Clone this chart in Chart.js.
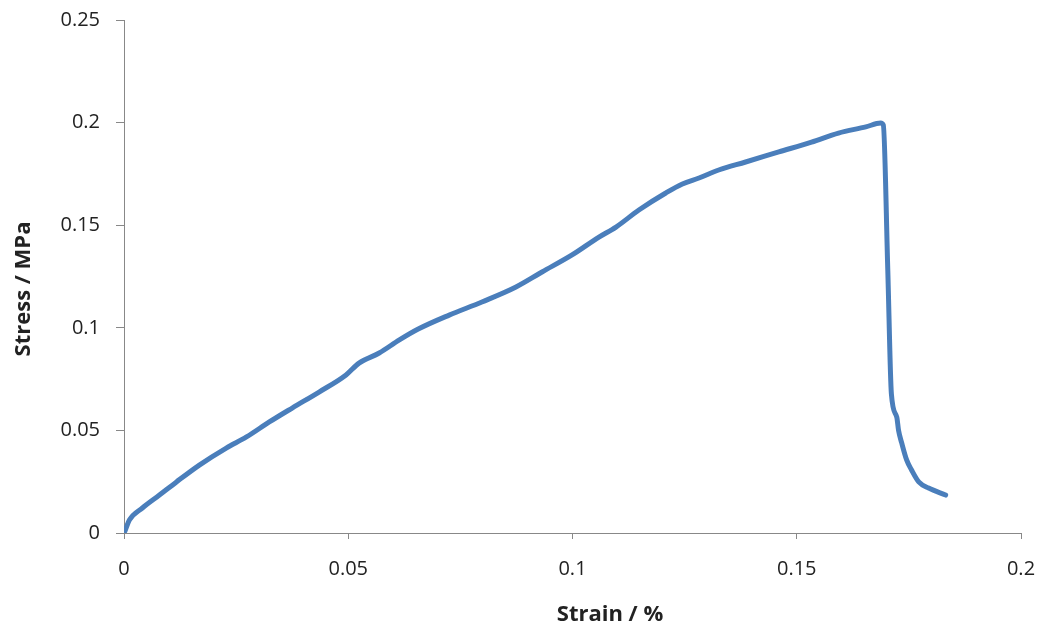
<!DOCTYPE html>
<html><head><meta charset="utf-8">
<script src="https://cdn.jsdelivr.net/npm/chart.js@4"></script>
<style>html,body{margin:0;padding:0;background:#fff}#wrap{width:1041px;height:628px}</style>
</head><body><div id="wrap"><canvas id="c" width="1041" height="628"></canvas></div>
<script>
const strain = [0, 0.0003, 0.0012, 0.0041, 0.0079, 0.0117, 0.0168, 0.0228, 0.0273, 0.0324, 0.0375, 0.0435, 0.0495, 0.0524, 0.0569, 0.0614, 0.0656, 0.0725, 0.0798, 0.0874, 0.0932, 0.0999, 0.1059, 0.1097, 0.1148, 0.1208, 0.1245, 0.1282, 0.1326, 0.1386, 0.146, 0.1533, 0.1593, 0.1654, 0.1687, 0.1693, 0.1703, 0.1711, 0.1723, 0.1727, 0.1734, 0.1745, 0.1756, 0.1772, 0.1794, 0.1832];
const stress = [0, 0.0015, 0.0063, 0.0122, 0.0185, 0.0249, 0.0331, 0.0414, 0.0468, 0.0541, 0.0609, 0.0687, 0.077, 0.0828, 0.0877, 0.0941, 0.0994, 0.1062, 0.1126, 0.1199, 0.1272, 0.1355, 0.1442, 0.1491, 0.1574, 0.1657, 0.1701, 0.173, 0.1769, 0.1808, 0.1857, 0.1905, 0.1949, 0.1979, 0.1998, 0.1988, 0.128, 0.0678, 0.0565, 0.050, 0.0439, 0.0356, 0.0307, 0.0249, 0.0219, 0.0185];
const xTicks = [0, 0.05, 0.1, 0.15, 0.2];
const yTicks = [0, 0.05, 0.1, 0.15, 0.2, 0.25];
const xTitle = 'Strain / %';
const yTitle = 'Stress / MPa';

const pts = strain.map((x, i) => ({x: x, y: stress[i]}));
const fmt = v => String(+(+v).toFixed(4));
const font = {family: '"Open Sans", Lato, sans-serif', size: 20};
const titleFont = 'bold 22px "Open Sans", Lato, sans-serif';
const titles = {
  id: 'axisTitles',
  afterDraw(chart) {
    const ctx = chart.ctx;
    ctx.save();
    ctx.fillStyle = '#222';
    ctx.font = titleFont;
    ctx.textAlign = 'center';
    ctx.textBaseline = 'middle';
    ctx.fillText(xTitle, 610, 615);
    ctx.translate(24, 289);
    ctx.rotate(-Math.PI / 2);
    ctx.fillText(yTitle, 0, 0);
    ctx.restore();
  }
};
new Chart(document.getElementById('c'), {
  type: 'scatter',
  data: {datasets: [{data: pts, showLine: true, borderColor: '#4a7ebb', backgroundColor: '#4a7ebb', borderWidth: 5, pointRadius: 0, cubicInterpolationMode: 'monotone', borderJoinStyle: 'round', borderCapStyle: 'round'}]},
  options: {
    responsive: false, animation: false,
    layout: {padding: {top: 20, right: 20, bottom: 0, left: 0}},
    plugins: {legend: {display: false}, tooltip: {enabled: false}},
    scales: {
      x: {type: 'linear', min: 0, max: 0.2,
        afterBuildTicks: s => { s.ticks = xTicks.map(v => ({value: v})); },
        afterFit: s => { s.height = 95; s.paddingLeft = 0; s.paddingRight = 0; },
        ticks: {callback: fmt, color: '#222', font: font, padding: 18, maxRotation: 0},
        grid: {drawOnChartArea: false, drawTicks: true, tickLength: 6, color: '#888'},
        border: {color: '#888', width: 1}
      },
      y: {type: 'linear', min: 0, max: 0.25,
        afterBuildTicks: s => { s.ticks = yTicks.map(v => ({value: v})); },
        afterFit: s => { s.width = 124; s.paddingTop = 0; s.paddingBottom = 0; },
        ticks: {callback: fmt, color: '#222', font: font, padding: 16},
        grid: {drawOnChartArea: false, drawTicks: true, tickLength: 8, color: '#888'},
        border: {color: '#888', width: 1}
      }
    }
  },
  plugins: [titles]
});
</script></body></html>
